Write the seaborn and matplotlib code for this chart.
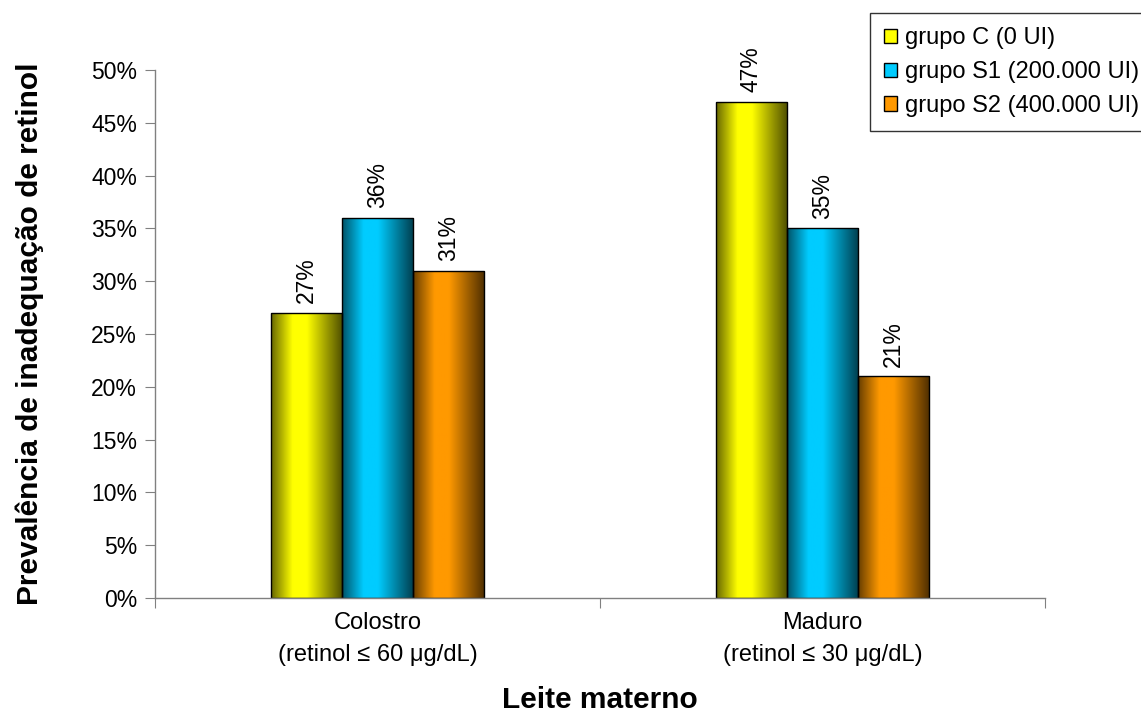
import numpy as np
import pandas as pd
import matplotlib
matplotlib.use("Agg")
import matplotlib.pyplot as plt
from matplotlib.colors import LinearSegmentedColormap, to_rgb
from matplotlib.patches import Patch
from matplotlib.ticker import PercentFormatter
import seaborn as sns

categories = ["Colostro\n(retinol ≤ 60 μg/dL)", "Maduro\n(retinol ≤ 30 μg/dL)"]
groups = ["grupo C (0 UI)", "grupo S1 (200.000 UI)", "grupo S2 (400.000 UI)"]
grupo_c = [27, 47]
grupo_s1 = [36, 35]
grupo_s2 = [31, 21]
colors = ["#ffff00", "#00ccff", "#ff9900"]

df = pd.DataFrame({
    "leite": categories * 3,
    "grupo": [g for g in groups for _ in categories],
    "valor": grupo_c + grupo_s1 + grupo_s2,
})

sns.set_style("white")
plt.rcParams["font.family"] = ["Liberation Sans", "DejaVu Sans"]
plt.rcParams["text.color"] = "black"
plt.rcParams["axes.labelcolor"] = "black"
plt.rcParams["xtick.color"] = "black"
plt.rcParams["ytick.color"] = "black"

fs = 16.5

fig = plt.figure(figsize=(11.41, 7.2), dpi=100)
ax = fig.add_axes([155 / 1141, 1 - 598 / 720, 890 / 1141, 528 / 720])

sns.barplot(data=df, x="leite", y="valor", hue="grupo", palette=colors,
            width=0.48, gap=0, edgecolor="black", linewidth=1,
            legend=False, ax=ax)

# horizontal gradient on each bar: dark edge -> bright -> dark edge
for cont, col in zip(ax.containers, colors):
    rgb = np.array(to_rgb(col))
    cmap = LinearSegmentedColormap.from_list(
        "g", [(0, rgb * 0.4), (0.3, rgb), (0.5, rgb), (1, rgb * 0.3)], N=256)
    grad = np.linspace(0, 1, 256).reshape(1, -1)
    for bar in cont:
        x0, y0 = bar.get_x(), bar.get_y()
        w, h = bar.get_width(), bar.get_height()
        im = ax.imshow(grad, cmap=cmap, aspect="auto",
                       extent=[x0, x0 + w, y0, y0 + h], zorder=bar.get_zorder())
        im.set_clip_path(bar)
        bar.set_facecolor("none")
        bar.set_zorder(bar.get_zorder() + 0.1)
    ax.bar_label(cont, labels=[f"{v:.0f}%" for v in cont.datavalues],
                 rotation=90, padding=7, fontsize=fs)

ax.set_xlim(-0.5, 1.5)
ax.set_ylim(0, 50)
ax.yaxis.set_major_locator(plt.MultipleLocator(5))
ax.yaxis.set_major_formatter(PercentFormatter(decimals=0))
ax.set_xticks([-0.5, 0.5, 1.5], minor=False)
ax.set_xticklabels([])
ax.set_xticks([0, 1], minor=True)
ax.set_xticklabels(categories, minor=True, fontsize=17, linespacing=1.6)
ax.tick_params(axis="x", which="minor", length=0, pad=10)
ax.tick_params(axis="x", which="major", length=7, direction="out", color="#808080", bottom=True)
ax.tick_params(axis="y", length=7, direction="out", color="#808080", left=True,
               labelsize=fs, pad=6)

for s in ["top", "right"]:
    ax.spines[s].set_visible(False)
for s in ["left", "bottom"]:
    ax.spines[s].set_color("#808080")
    ax.spines[s].set_linewidth(1)

ax.set_xlabel("Leite materno", fontsize=21.5, fontweight="bold", labelpad=14)
ax.set_ylabel("Prevalência de inadequação de retinol", fontsize=21.5,
              fontweight="bold", labelpad=34)

handles = [Patch(facecolor=c, edgecolor="black", linewidth=1) for c in colors]
leg = fig.legend(handles, groups, loc="upper left",
                 bbox_to_anchor=(870 / 1141, 1 - 13 / 720), frameon=True,
                 fancybox=False, edgecolor="black", fontsize=17,
                 handlelength=0.55, handleheight=0.55, handletextpad=0.35,
                 labelspacing=0.5, borderpad=0.6, borderaxespad=0)
leg.get_frame().set_linewidth(1)

fig.savefig("out.png", dpi=100, facecolor="white")
